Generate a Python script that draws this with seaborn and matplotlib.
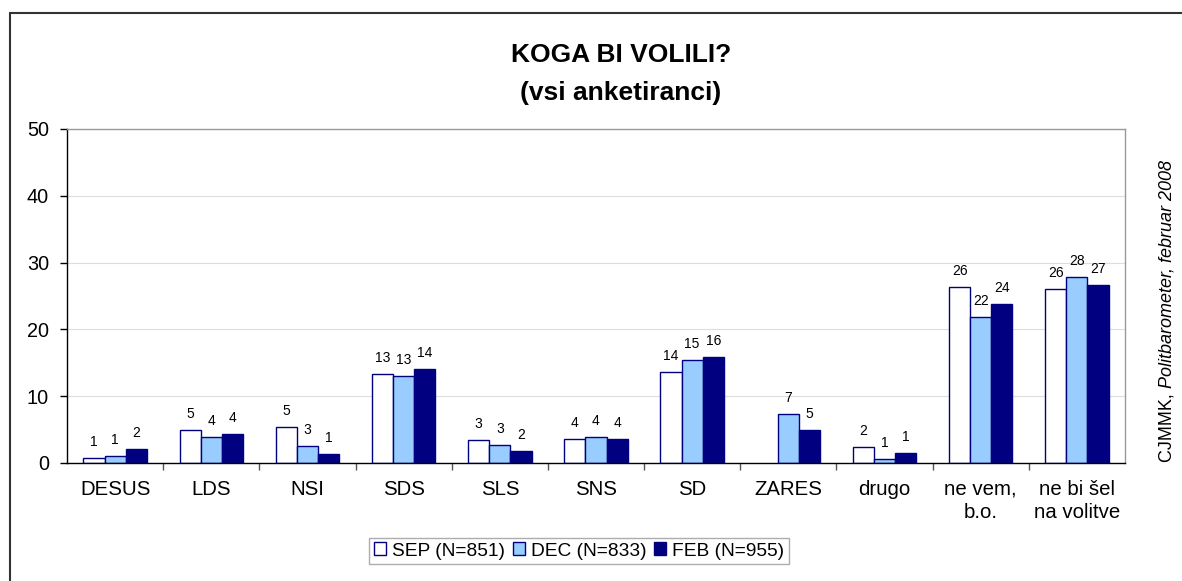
import pandas as pd
import numpy as np
import matplotlib
matplotlib.use("Agg")
import matplotlib.pyplot as plt
import matplotlib.patches as patches
import seaborn as sns

# data
parties = ["DESUS", "LDS", "NSI", "SDS", "SLS", "SNS", "SD", "ZARES", "drugo",
           "ne vem,\nb.o.", "ne bi šel\nna volitve"]
waves = ["SEP (N=851)", "DEC (N=833)", "FEB (N=955)"]
sep = [0.7, 5.0, 5.4, 13.3, 3.4, 3.6, 13.6, np.nan, 2.4, 26.4, 26.0]
dec = [1.0, 3.9, 2.6, 13.0, 2.7, 3.85, 15.4, 7.3, 0.6, 21.8, 27.8]
feb = [2.1, 4.4, 1.4, 14.1, 1.75, 3.6, 15.9, 5.0, 1.5, 23.8, 26.7]
sep_lab = ["1", "5", "5", "13", "3", "4", "14", "", "2", "26", "26"]
dec_lab = ["1", "4", "3", "13", "3", "4", "15", "7", "1", "22", "28"]
feb_lab = ["2", "4", "1", "14", "2", "4", "16", "5", "1", "24", "27"]

df = pd.DataFrame({
    "stranka": parties * 3,
    "val": sep + dec + feb,
    "val_wave": [waves[0]] * 11 + [waves[1]] * 11 + [waves[2]] * 11,
})

sns.set_style("white")
plt.rcParams["font.family"] = ["Liberation Sans", "DejaVu Sans"]
plt.rcParams["text.color"] = "black"
plt.rcParams["xtick.color"] = "black"
plt.rcParams["ytick.color"] = "black"

fig = plt.figure(figsize=(11.82, 5.81), dpi=100)
ax = fig.add_axes([67 / 1182, 1 - 463 / 581, (1125 - 67) / 1182, (463 - 129) / 581])

pal = ["#FFFFFF", "#99CCFF", "#000080"]
sns.barplot(data=df, x="stranka", y="val", hue="val_wave", hue_order=waves,
            palette=pal, width=0.66, gap=0, errorbar=None,
            edgecolor="#000080", linewidth=1.0, saturation=1, ax=ax)

# value labels above bars; match bars to categories by their x position
for cont, labs in zip(ax.containers, [sep_lab, dec_lab, feb_lab]):
    for bar in cont:
        if bar is None:
            continue
        xc = bar.get_x() + bar.get_width() / 2
        lab = labs[int(round(xc))]
        if lab == "":
            continue
        ax.annotate(lab, (xc, bar.get_height()),
                    xytext=(0, 6.5), textcoords="offset points",
                    ha="center", va="bottom", fontsize=10, color="black")

ax.set_ylim(0, 50)
ax.set_xlim(-0.5, len(parties) - 0.5)
ax.set_yticks(range(0, 51, 10))
ax.yaxis.grid(True, color="#dddddd", lw=0.8)
ax.set_axisbelow(True)
ax.set_xlabel("")
ax.set_ylabel("")
ax.tick_params(axis="y", labelsize=14.3, length=5, width=1, color="black",
               direction="out", left=True, pad=8)
ax.tick_params(axis="x", which="major", labelsize=14.7, length=0, pad=12)
for t in ax.get_xticklabels():
    t.set_linespacing(1.3)
ax.set_xticks(np.arange(0.5, len(parties) - 0.5, 1), minor=True)
ax.tick_params(axis="x", which="minor", length=5, width=1, color="#555555",
               direction="out", bottom=True)
for s in ["left", "bottom"]:
    ax.spines[s].set_color("black")
    ax.spines[s].set_linewidth(1)
for s in ["top", "right"]:
    ax.spines[s].set_color("#999999")
    ax.spines[s].set_linewidth(1)

ax.get_legend().remove()
handles = [patches.Patch(facecolor=c, edgecolor="#000080", lw=1) for c in pal]
leg = fig.legend(handles, waves, loc="center", bbox_to_anchor=(579 / 1182, 1 - 551 / 581),
                 ncol=3, fontsize=13.8, frameon=True, fancybox=False, handlelength=0.65,
                 handleheight=0.65, handletextpad=0.3, columnspacing=0.4,
                 borderpad=0.25, edgecolor="#999999")
leg.get_frame().set_linewidth(1)

fig.text(621 / 1182, 1 - 55 / 581, "KOGA BI VOLILI?", ha="center", va="center",
         fontsize=19, fontweight="bold")
fig.text(621 / 1182, 1 - 93 / 581, "(vsi anketiranci)", ha="center", va="center",
         fontsize=19, fontweight="bold")

# source note, rotated on the right
t1 = fig.text(1167 / 1182, 1 - 462 / 581, "CJMMK, ", rotation=90, ha="center",
              va="bottom", fontsize=13)
fig.canvas.draw()
bb = t1.get_window_extent(fig.canvas.get_renderer())
fig.text(1167 / 1182, bb.y1 / fig.bbox.height, "Politbarometer, februar 2008",
         rotation=90, ha="center", va="bottom", fontsize=13, style="italic")

frame = patches.Rectangle((10 / 1182, -0.01), 1.0, 1 - 13 / 581 + 0.01,
                          transform=fig.transFigure, fill=False,
                          edgecolor="#333333", lw=1.5)
fig.patches.append(frame)

fig.savefig("out.png", dpi=100)
